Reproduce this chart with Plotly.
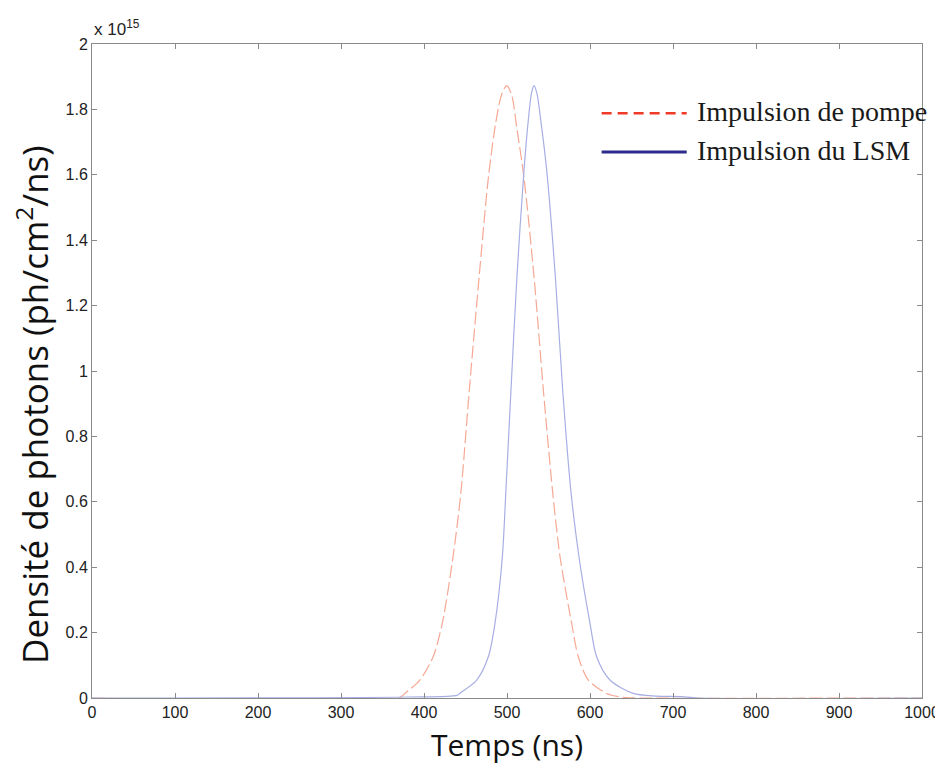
import plotly.graph_objects as go

# Time axis (ns) and photon density (x 10^15 ph/cm^2/ns)
pump_time = [0, 370, 377, 395, 411, 422, 435, 444.5, 454.6, 466.5, 477.5, 486.5, 493.5, 499.6,
             505.5, 512, 520.5, 532.5, 543.8, 555, 563.9, 577.9, 585.9, 598, 620, 640, 660, 1000]
pump_density = [0, 0, 0.014, 0.055, 0.126, 0.228, 0.432, 0.63, 0.942, 1.29, 1.59, 1.76, 1.845, 1.873,
                1.845, 1.74, 1.59, 1.29, 0.942, 0.63, 0.432, 0.228, 0.126, 0.055, 0.014, 0.002, 0, 0]

lsm_time = [0, 380, 440, 443, 463.5, 477.5, 485.5, 494.4, 498.6, 504.8, 512, 520.5, 525.7, 529.5, 532.5,
            536, 540.6, 547.8, 558.2, 567.1, 577.1, 586.7, 600, 608, 624, 652, 680, 710, 730, 1000]
lsm_density = [0, 0.003, 0.008, 0.014, 0.055, 0.126, 0.228, 0.432, 0.63, 0.942, 1.29, 1.615, 1.768, 1.85, 1.873,
               1.85, 1.768, 1.615, 1.29, 0.942, 0.63, 0.432, 0.228, 0.126, 0.055, 0.014, 0.006, 0.004, 0, 0]

x_ticks = [0, 100, 200, 300, 400, 500, 600, 700, 800, 900, 1000]
y_ticks = [0, 0.2, 0.4, 0.6, 0.8, 1, 1.2, 1.4, 1.6, 1.8, 2]
y_tick_labels = ["0", "0.2", "0.4", "0.6", "0.8", "1", "1.2", "1.4", "1.6", "1.8", "2"]

legend_labels = ["Impulsion de pompe", "Impulsion du LSM"]

fig = go.Figure()
fig.add_trace(go.Scatter(x=pump_time, y=pump_density, mode="lines", showlegend=False,
                         line=dict(color="#f6a894", width=1.2, dash="13px,4px", shape="spline", smoothing=0.8)))
fig.add_trace(go.Scatter(x=lsm_time, y=lsm_density, mode="lines", showlegend=False,
                         line=dict(color="#a8aee4", width=1.2, shape="spline", smoothing=0.8)))

axis_common = dict(showgrid=False, zeroline=False, showline=True, linecolor="#8a8a8a", linewidth=1,
                   mirror="ticks", ticks="inside", ticklen=5, tickcolor="#8a8a8a",
                   tickfont=dict(family="Liberation Sans, Arial", size=16, color="#222222"))

fig.update_xaxes(range=[0, 1000], tickvals=x_ticks, **axis_common)
fig.update_yaxes(range=[0, 2], tickvals=y_ticks, ticktext=y_tick_labels, **axis_common)

# Legend drawn manually (lines + text)
leg_line_y = [0.894, 0.835]
leg_text_y = [0.897, 0.837]
fig.add_shape(type="line", xref="paper", yref="paper", x0=0.614, x1=0.7165, y0=leg_line_y[0], y1=leg_line_y[0],
              line=dict(color="#f03a28", width=2.5, dash="10px,6px"))
fig.add_shape(type="line", xref="paper", yref="paper", x0=0.614, x1=0.7165, y0=leg_line_y[1], y1=leg_line_y[1],
              line=dict(color="#2c2c8c", width=3))
for lbl, yy in zip(legend_labels, leg_text_y):
    fig.add_annotation(xref="paper", yref="paper", x=0.727, y=yy, text=lbl, showarrow=False,
                       xanchor="left", yanchor="middle",
                       font=dict(family="Liberation Serif", size=28, color="#1a1a1a"))

# Exponent label
fig.add_annotation(xref="paper", yref="paper", x=0.0, y=1.0, yshift=3, text="x 10<sup>15</sup>",
                   showarrow=False, xanchor="left", yanchor="bottom",
                   font=dict(family="Liberation Sans, Arial", size=17, color="#222222"))

# Axis titles
fig.add_annotation(xref="paper", yref="paper", x=0.5, y=0, yshift=-46, text="Temps (ns)",
                   showarrow=False, xanchor="center", yanchor="middle",
                   font=dict(family="Open Sans", size=30, color="#111111"))
fig.add_annotation(xref="paper", yref="paper", x=0, xshift=-60, y=0.448,
                   text="Densité de photons (ph/cm<sup>2</sup>/ns)", textangle=-90,
                   showarrow=False, xanchor="center", yanchor="middle",
                   font=dict(family="Open Sans", size=35, color="#111111"))

fig.update_layout(width=935, height=756, margin=dict(l=84, r=21, t=36, b=66, autoexpand=False),
                  plot_bgcolor="white", paper_bgcolor="white", showlegend=False)

fig.write_html("out.html")
